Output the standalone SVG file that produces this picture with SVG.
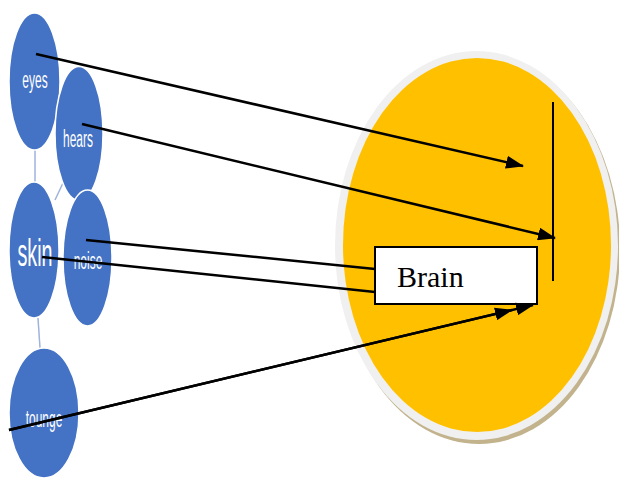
<svg xmlns="http://www.w3.org/2000/svg" width="619" height="482" viewBox="0 0 619 482">
<defs>
<marker id="ah" markerWidth="18" markerHeight="13" refX="17" refY="6.5" orient="auto" markerUnits="userSpaceOnUse" viewBox="0 0 18 13">
<path d="M0,0 L18,6.5 L0,13 Z" fill="#000"/>
</marker>
<style>
.bub{fill:#4472C4;stroke:#ffffff;stroke-width:1.5}
.lbl{font-family:"Liberation Sans",Arial,sans-serif;fill:#ffffff;text-anchor:middle}
.link{stroke:#9fb3dc;stroke-width:1.5;fill:none}
.arr{stroke:#000;stroke-width:2.5;fill:none}
</style>
</defs>
<rect width="619" height="482" fill="#ffffff"/>
<g id="brain-area">
<ellipse cx="479" cy="249" rx="141" ry="195" fill="#c2b38d"/>
<ellipse cx="476.5" cy="245.5" rx="141.5" ry="194.5" fill="#f0f0f0"/>
<ellipse cx="477" cy="245" rx="134" ry="187" fill="#FFC000"/>
</g>
<g id="hierarchy-links">
<line class="link" x1="35" y1="150" x2="35" y2="183"/>
<line class="link" x1="63" y1="183" x2="55" y2="200"/>
<line class="link" x1="38" y1="318" x2="40" y2="348"/>
</g>
<g id="eyes"><ellipse class="bub" cx="34.5" cy="81.5" rx="25.5" ry="68.5"/><text class="lbl" font-size="23" transform="translate(35,88) scale(0.52,1)">eyes</text></g>
<g id="hears"><ellipse class="bub" cx="79" cy="133.5" rx="24" ry="67"/><text class="lbl" font-size="23" transform="translate(78,147) scale(0.52,1)">hears</text></g>
<g id="skin"><ellipse class="bub" cx="34" cy="250" rx="25" ry="68"/><text class="lbl" font-size="38" transform="translate(35,266) scale(0.52,1)">skin</text></g>
<g id="noise"><ellipse class="bub" cx="87.5" cy="258" rx="24.5" ry="68"/><text class="lbl" font-size="23" transform="translate(88,269) scale(0.52,1)">noise</text></g>
<g id="tounge"><ellipse class="bub" cx="44" cy="413" rx="35" ry="65"/><text class="lbl" font-size="23" transform="translate(44,427) scale(0.52,1)">tounge</text></g>
<g id="brain"><rect x="375" y="247" width="162" height="57" fill="#ffffff" stroke="#000" stroke-width="2"/><text x="397" y="287" font-family="'Liberation Serif','Times New Roman',serif" font-size="30" fill="#000">Brain</text></g>
<g id="connectors">
<line x1="553" y1="102" x2="553" y2="281" stroke="#000" stroke-width="2"/>
<line class="arr" x1="36" y1="54" x2="523" y2="166" marker-end="url(#ah)"/>
<line class="arr" x1="82" y1="124" x2="555" y2="238" marker-end="url(#ah)"/>
<line class="arr" x1="86" y1="240" x2="375" y2="269"/>
<line class="arr" x1="42" y1="257" x2="375" y2="292"/>
<line class="arr" x1="9" y1="430" x2="512" y2="310" marker-end="url(#ah)"/>
<line class="arr" x1="9" y1="430" x2="533" y2="305" marker-end="url(#ah)"/>
</g>
</svg>
